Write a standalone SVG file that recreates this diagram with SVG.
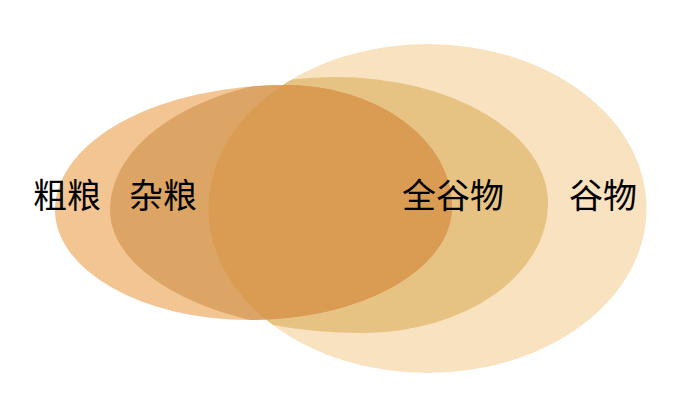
<svg xmlns="http://www.w3.org/2000/svg" width="692" height="418" viewBox="0 0 692 418">
  <style>
    .lbl { font-family: "Noto Sans CJK SC", "Noto Sans CJK JP", sans-serif; font-size: 34px; fill: #000; text-anchor: middle; }
  </style>
  <defs>
    <path id="shapeA" d="M55,210 A230,125 0 0 1 285,85 A167,122 0 0 1 452,207 A202,113 0 0 1 250,320 A195,110 0 0 1 55,210 Z"/>
    <path id="shapeB" d="M110,210 A225,133 0 0 1 335,77 A213,126 0 0 1 548,203 A185,130 0 0 1 363,333 A253,123 0 0 1 110,210 Z"/>
    <ellipse id="shapeC" cx="427.5" cy="208.5" rx="219" ry="164.5"/>
    <clipPath id="clipB"><use href="#shapeB"/></clipPath>
    <clipPath id="clipC"><use href="#shapeC"/></clipPath>
  </defs>
  <rect width="692" height="418" fill="#ffffff"/>
  <g id="node-grain">
    <use href="#shapeC" fill="#F8E2BF"/>
  </g>
  <g id="node-whole-grain">
    <use href="#shapeB" fill="#E7C383" clip-path="url(#clipC)"/>
  </g>
  <g id="node-coarse-grain">
    <use href="#shapeA" fill="#F3C593"/>
    <g clip-path="url(#clipB)">
      <use href="#shapeA" fill="#DDA565"/>
      <use href="#shapeA" fill="#DA9B52" clip-path="url(#clipC)"/>
    </g>
  </g>
  <g id="labels">
    <text class="lbl" x="67" y="208">粗粮</text>
    <text class="lbl" x="163" y="208">杂粮</text>
    <text class="lbl" x="453" y="208">全谷物</text>
    <text class="lbl" x="603" y="208">谷物</text>
  </g>
</svg>
